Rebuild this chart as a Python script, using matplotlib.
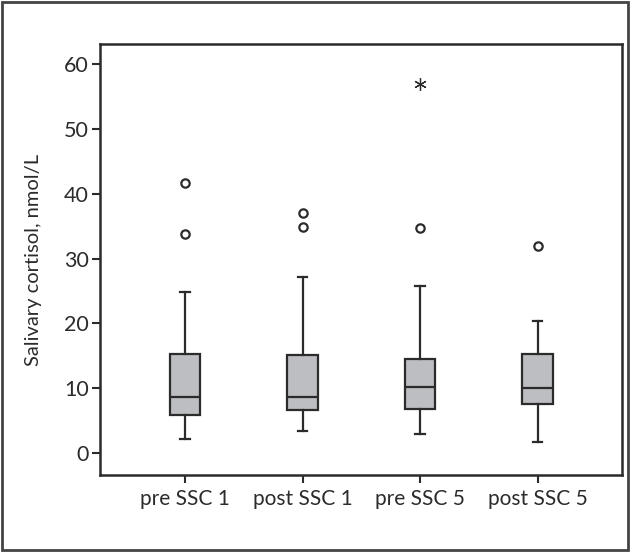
#!/usr/bin/env python3
# -*- coding: utf-8 -*-
"""
Boxplot of salivary cortisol before/after SSC 1 and SSC 5.
"""

import matplotlib
matplotlib.use("Agg")
import matplotlib.pyplot as plt
from matplotlib.patches import Rectangle

plt.rcParams['font.family'] = ['Lato', 'DejaVu Sans']

# groups
labels = ['pre SSC 1', 'post SSC 1', 'pre SSC 5', 'post SSC 5']

# box statistics (nmol/L)
whislo = [2.2, 3.4, 3.0, 1.7]
q1 = [5.8, 6.7, 6.8, 7.5]
med = [8.7, 8.7, 10.2, 10.1]
q3 = [15.2, 15.1, 14.5, 15.3]
whishi = [24.9, 27.2, 25.8, 20.4]

# outliers (circles) and extreme values (asterisks)
outliers = [[41.7, 33.8], [37.1, 34.9], [34.7], [31.9]]
extremes = [[], [], [57.0], []]

dark = '#2b2b2b'

fig = plt.figure(figsize=(6.3, 5.52), dpi=100)
ax = fig.add_axes([100/630, 1 - 475/552, 522/630, 431/552])

stats = []
for i in range(len(labels)):
    stats.append(dict(whislo=whislo[i], q1=q1[i], med=med[i], q3=q3[i],
                      whishi=whishi[i], fliers=[], label=labels[i]))

ax.bxp(stats, positions=[1, 2, 3, 4], widths=0.26, capwidths=0.08,
       patch_artist=True, showfliers=False,
       boxprops=dict(facecolor='#bdbec2', edgecolor=dark, linewidth=1.6),
       medianprops=dict(color=dark, linewidth=1.6),
       whiskerprops=dict(color=dark, linewidth=1.6),
       capprops=dict(color=dark, linewidth=1.6))

for i in range(len(labels)):
    if outliers[i]:
        ax.plot([i + 1] * len(outliers[i]), outliers[i], 'o', ms=6,
                mfc='white', mec=dark, mew=1.6)
    if extremes[i]:
        ax.plot([i + 1] * len(extremes[i]), extremes[i], ls='none',
                marker=(6, 2, 0), ms=9, mec=dark, mew=0.9)

ax.set_xlim(0.277, 4.717)
ax.set_ylim(-3.4, 63.1)
ax.set_yticks([0, 10, 20, 30, 40, 50, 60])
ax.set_xticks([1, 2, 3, 4])
ax.set_xticklabels(labels)
ax.set_ylabel('Salivary cortisol, nmol/L', fontsize=14.5, color=dark, labelpad=16)

ax.tick_params(direction='out', length=6, width=1.5, color=dark,
               labelsize=15.5, labelcolor=dark, pad=2)
ax.tick_params(axis='x', labelsize=15, pad=4)
for s in ax.spines.values():
    s.set_linewidth(1.8)
    s.set_color(dark)

# outer frame around the whole figure
fig.patches.append(Rectangle((2/630, 2/552), 626/630, 548/552,
                             transform=fig.transFigure, fill=False,
                             edgecolor='#444444', linewidth=2))

fig.savefig('out.png', dpi=100)
